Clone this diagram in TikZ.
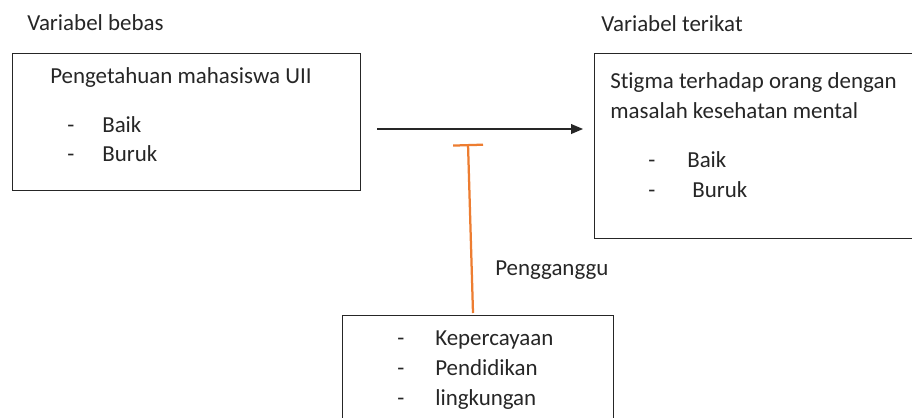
\documentclass[tikz,border=0pt]{standalone}
\usepackage{fontspec}
\setmainfont{Carlito}[Ligatures=NoCommon]
\usetikzlibrary{arrows.meta}
\definecolor{confcol}{HTML}{ED7D31}
\definecolor{inkcol}{HTML}{262626}
\tikzset{
  box/.style={draw=inkcol,line width=0.9pt,inner sep=0pt,anchor=north west},
  txt/.style={inner sep=0pt,anchor=base west,text=inkcol,
    font=\fontsize{16.3}{19.6}\selectfont},
}
\begin{document}
\begin{tikzpicture}[x=0.025cm,y=-0.025cm]
    \clip (0,0) rectangle (912,417);
    \fill[white] (0,0) rectangle (912,417);
    % boxes
    \node[box,minimum width=8.7cm,minimum height=3.425cm] (iv) at (12,53) {};
    \node[box,minimum width=8.1cm,minimum height=4.625cm] (dv) at (594,53) {};
    \node[box,minimum width=6.775cm,minimum height=2.75cm] (cf) at (342,315) {};
    % headings
    \node[txt] (ivhead) at (27,30) {Variabel bebas};
    \node[txt] (dvhead) at (601,31) {Variabel terikat};
    % left box
    \node[txt] (ivtitle) at (50,83) {Pengetahuan mahasiswa UII};
    \node[txt] (ivd1) at (67,132) {-};
    \node[txt] (ivbaik) at (102,132) {Baik};
    \node[txt] (ivd2) at (67,161) {-};
    \node[txt] (ivburuk) at (102,161) {Buruk};
    % right box
    \node[txt] (dvt1) at (610,88) {Stigma terhadap orang dengan};
    \node[txt] (dvt2) at (610,118) {masalah kesehatan mental};
    \node[txt] (dvd1) at (648,167) {-};
    \node[txt] (dvbaik) at (687,167) {Baik};
    \node[txt] (dvd2) at (648,197) {-};
    \node[txt] (dvburuk) at (692,197) {Buruk};
    % confounders
    \node[txt] (cflabel) at (495,275) {Pengganggu};
    \node[txt] (cfd1) at (397,345) {-};
    \node[txt] (cfk) at (435,345) {Kepercayaan};
    \node[txt] (cfd2) at (397,375) {-};
    \node[txt] (cfp) at (435,375) {Pendidikan};
    \node[txt] (cfd3) at (397,405) {-};
    \node[txt] (cfl) at (435,405) {lingkungan};
    % connectors
    \coordinate (a0) at (377,129);
    \coordinate (a1) at (583,129);
    \draw[inkcol,line width=0.8pt,-{Triangle[length=8.5pt,width=7pt]}] (a0) -- (a1);
    \coordinate (t0) at (468,144);
    \coordinate (t1) at (473,313);
    \draw[confcol,line width=1.6pt,{Bar[width=21.3pt]}-] (t0) -- (t1);
\end{tikzpicture}
\end{document}
